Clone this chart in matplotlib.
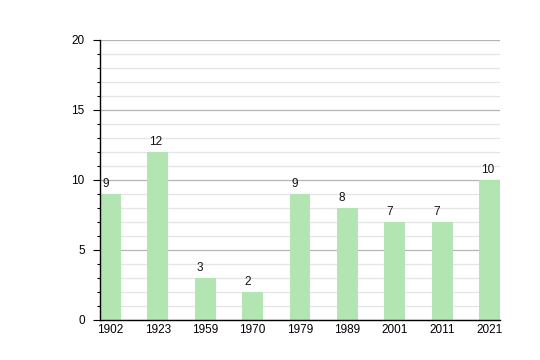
import matplotlib
matplotlib.use("Agg")
import matplotlib.pyplot as plt
from matplotlib.ticker import MultipleLocator

# data
years = ["1902", "1923", "1959", "1970", "1979", "1989", "2001", "2011", "2021"]
counts = [9, 12, 3, 2, 9, 8, 7, 7, 10]

plt.rcParams['font.family'] = ['Liberation Sans', 'DejaVu Sans']

fig = plt.figure(figsize=(5.4, 3.6), dpi=100)
ax = fig.add_axes([100 / 540, 40 / 360, 400 / 540, 280 / 360])

w = 21 / 47.5
x = list(range(len(years)))
ax.bar(x, counts, width=w, color="#b3e5b3", zorder=2)

for xi, c in zip(x, counts):
    ax.annotate(str(c), (xi - w / 2, c), xytext=(1.5, 3), textcoords="offset points",
                ha="left", va="bottom", fontsize=8.5, color="#111111")

ax.set_xlim(-w / 2, len(years) - 1 + w / 2)
ax.set_ylim(0, 20)
ax.set_xticks(x)
ax.set_xticklabels(years)
ax.yaxis.set_major_locator(MultipleLocator(5))
ax.yaxis.set_minor_locator(MultipleLocator(1))

ax.grid(axis="y", which="major", color="#b4b4b4", linewidth=0.9, zorder=0)
ax.grid(axis="y", which="minor", color="#e4e4e4", linewidth=0.9, zorder=0)
ax.set_axisbelow(True)

for s in ["top", "right"]:
    ax.spines[s].set_visible(False)
ax.spines["left"].set_linewidth(1.0)
ax.spines["bottom"].set_linewidth(1.0)

ax.tick_params(axis="x", length=0, pad=3, labelsize=8.5)
ax.tick_params(axis="y", which="major", length=5, width=0.8, pad=6, labelsize=8.5)
ax.tick_params(axis="y", which="minor", length=2.5, width=0.8)

fig.savefig("out.png", dpi=100)
